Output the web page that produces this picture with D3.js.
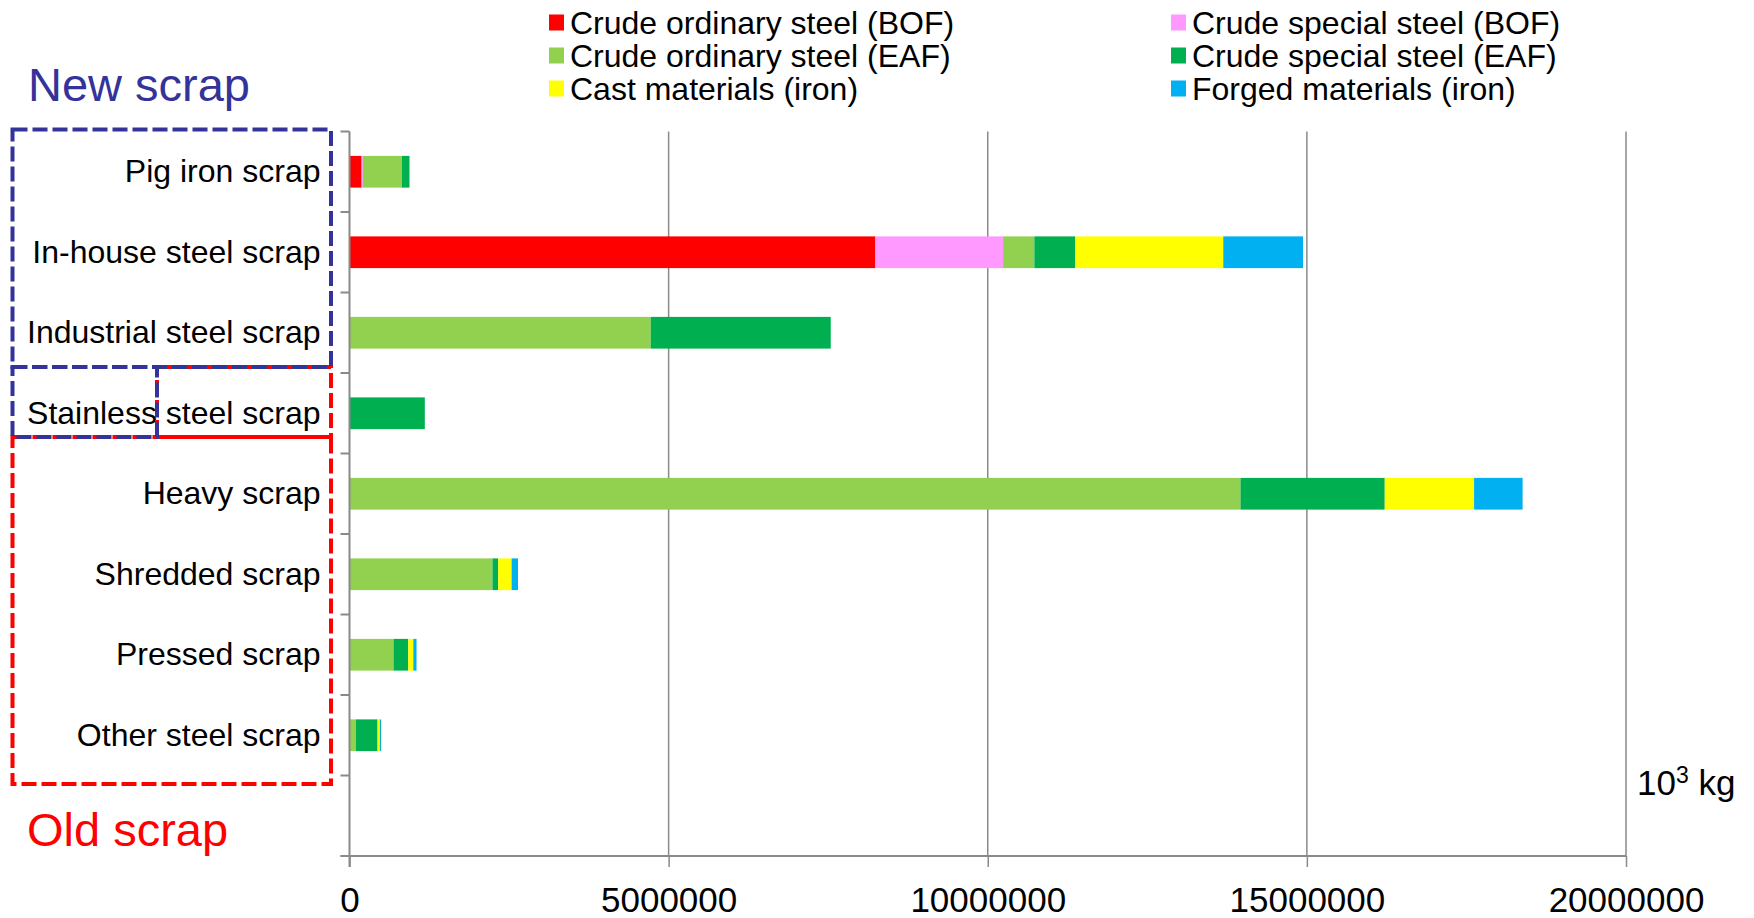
<!DOCTYPE html>
<html>
<head>
<meta charset="utf-8">
<script src="https://cdn.jsdelivr.net/npm/d3@7"></script>
<style>
  body { margin: 0; background: #fff; }
  svg { display: block; }
  text { font-family: "Liberation Sans", Arial, sans-serif; }
</style>
</head>
<body>
<svg id="chart" width="1754" height="918"></svg>
<script>
// Scrap categories (top to bottom)
const categories = [
  "Pig iron scrap",
  "In-house steel scrap",
  "Industrial steel scrap",
  "Stainless steel scrap",
  "Heavy scrap",
  "Shredded scrap",
  "Pressed scrap",
  "Other steel scrap"
];

// Consumption by destination, 10^3 kg, in stacking order
const crudeOrdinaryBOF = [190000, 8240000, 0, 0, 0, 0, 0, 0];
const crudeSpecialBOF  = [20000, 2000000, 0, 0, 0, 0, 0, 0];
const crudeOrdinaryEAF = [610000, 490000, 4720000, 0, 13960000, 2240000, 690000, 100000];
const crudeSpecialEAF  = [120000, 640000, 2820000, 1180000, 2260000, 90000, 230000, 340000];
const castIron         = [0, 2320000, 0, 0, 1400000, 210000, 80000, 35000];
const forgedIron       = [0, 1250000, 0, 0, 760000, 100000, 50000, 20000];

const seriesKeys = [
  "Crude ordinary steel (BOF)",
  "Crude special steel (BOF)",
  "Crude ordinary steel (EAF)",
  "Crude special steel (EAF)",
  "Cast materials (iron)",
  "Forged materials (iron)"
];
const seriesValues = [crudeOrdinaryBOF, crudeSpecialBOF, crudeOrdinaryEAF, crudeSpecialEAF, castIron, forgedIron];
const seriesColors = ["#FF0000", "#FF99FF", "#92D050", "#00B050", "#FFFF00", "#00B0F0"];

// Legend layout: two columns of three entries
const legendColumns = [
  ["Crude ordinary steel (BOF)", "Crude ordinary steel (EAF)", "Cast materials (iron)"],
  ["Crude special steel (BOF)", "Crude special steel (EAF)", "Forged materials (iron)"]
];

const xTickValues = [0, 5000000, 10000000, 15000000, 20000000];

// ---------------------------------------------------------------
const svg = d3.select("#chart");
const plot = { left: 349.5, right: 1626, top: 131.5, bottom: 856 };
const gridColor = "#8a8a8a";

const rows = categories.map((c, i) => {
  const r = { category: c };
  seriesKeys.forEach((k, j) => { r[k] = seriesValues[j][i]; });
  return r;
});
const stacked = d3.stack().keys(seriesKeys)(rows);
const color = d3.scaleOrdinal().domain(seriesKeys).range(seriesColors);

const x = d3.scaleLinear().domain([0, 20000000]).range([plot.left, plot.right]);
// one blank slot below the last category
const y = d3.scaleBand()
  .domain(categories.concat([""]))
  .range([plot.top, plot.bottom])
  .paddingInner(0.606)
  .paddingOuter(0.303);

// vertical gridlines
svg.append("g")
  .selectAll("line")
  .data(xTickValues.filter(d => d > 0))
  .join("line")
  .attr("x1", d => x(d)).attr("x2", d => x(d))
  .attr("y1", plot.top).attr("y2", plot.bottom)
  .attr("stroke", gridColor).attr("stroke-width", 1.5);

// stacked bars
svg.append("g")
  .selectAll("g")
  .data(stacked)
  .join("g")
  .attr("fill", d => color(d.key))
  .selectAll("rect")
  .data(d => d)
  .join("rect")
  .attr("x", d => x(d[0]))
  .attr("width", d => Math.max(0, x(d[1]) - x(d[0])))
  .attr("y", d => y(d.data.category))
  .attr("height", y.bandwidth());

// x axis
const xAxis = svg.append("g")
  .attr("transform", `translate(0,${plot.bottom})`)
  .call(d3.axisBottom(x).tickValues(xTickValues).tickFormat(d3.format("d")).tickSize(11).tickPadding(20));
xAxis.select(".domain").remove();
xAxis.selectAll(".tick line").attr("stroke", gridColor).attr("stroke-width", 1.5);
xAxis.selectAll(".tick text")
  .attr("font-size", 35).attr("fill", "#000")
  .style("font-family", "\"Liberation Sans\", Arial, sans-serif");
svg.append("line")
  .attr("x1", plot.left - 9).attr("x2", plot.right)
  .attr("y1", plot.bottom).attr("y2", plot.bottom)
  .attr("stroke", gridColor).attr("stroke-width", 2);

// y axis
const yAxis = svg.append("g")
  .attr("transform", `translate(${plot.left},0)`)
  .call(d3.axisLeft(y).tickSize(0).tickPadding(29));
yAxis.select(".domain").remove();
yAxis.selectAll(".tick text")
  .attr("font-size", 32).attr("fill", "#000")
  .style("font-family", "\"Liberation Sans\", Arial, sans-serif");
svg.append("line")
  .attr("x1", plot.left).attr("x2", plot.left)
  .attr("y1", plot.top).attr("y2", plot.bottom + 11)
  .attr("stroke", gridColor).attr("stroke-width", 2);
// category boundary ticks
const bounds = d3.range(y.domain().length + 1).map(i => plot.top + i * y.step());
svg.append("g")
  .selectAll("line")
  .data(bounds)
  .join("line")
  .attr("x1", plot.left - 9).attr("x2", plot.left)
  .attr("y1", d => d).attr("y2", d => d)
  .attr("stroke", gridColor).attr("stroke-width", 2);

// unit label
const unit = svg.append("text")
  .attr("x", 1637).attr("y", 795)
  .attr("font-size", 35).attr("fill", "#000");
unit.append("tspan").text("10");
unit.append("tspan").attr("font-size", 23).attr("dy", -12).text("3");
unit.append("tspan").attr("dy", 12).text(" kg");

// legend
const legendX = [549, 1171];
const legendY = [22.5, 55.5, 88.5];
legendColumns.forEach((col, ci) => {
  col.forEach((name, ri) => {
    const g = svg.append("g").attr("transform", `translate(${legendX[ci]},${legendY[ri]})`);
    g.append("rect").attr("x", 0).attr("y", -8).attr("width", 15).attr("height", 16).attr("fill", color(name));
    g.append("text").attr("x", 21).attr("y", 0).attr("dy", "0.35em")
      .attr("font-size", 32).attr("fill", "#000").text(name);
  });
});

// group outlines: old scrap (red) underneath, new scrap (blue) on top
const blue = "#333399", red = "#FF0000";
const splitX = 157, leftX = 12.5, rightX = 331;
const yTop = 129.5, yMid = 367, yLow = 437, yEnd = 784;
const outlines = svg.append("g").attr("fill", "none").attr("stroke-width", 4);
outlines.append("rect")
  .attr("x", splitX).attr("y", yMid).attr("width", rightX - splitX).attr("height", yLow - yMid)
  .attr("stroke", red).attr("stroke-dasharray", "15,5");
outlines.append("rect")
  .attr("x", leftX).attr("y", yLow).attr("width", rightX - leftX).attr("height", yEnd - yLow)
  .attr("stroke", red).attr("stroke-dasharray", "15,5");
outlines.append("line")
  .attr("x1", splitX).attr("x2", rightX).attr("y1", yLow).attr("y2", yLow)
  .attr("stroke", red);
outlines.append("rect")
  .attr("x", leftX).attr("y", yTop).attr("width", rightX - leftX).attr("height", yMid - yTop)
  .attr("stroke", blue).attr("stroke-dasharray", "15,5");
outlines.append("rect")
  .attr("x", leftX).attr("y", yMid).attr("width", splitX - leftX).attr("height", yLow - yMid)
  .attr("stroke", blue).attr("stroke-dasharray", "15,5");

svg.append("text").attr("x", 28).attr("y", 101)
  .attr("font-size", 47).attr("fill", blue).text("New scrap");
svg.append("text").attr("x", 27).attr("y", 846)
  .attr("font-size", 47).attr("fill", red).text("Old scrap");
</script>
</body>
</html>
